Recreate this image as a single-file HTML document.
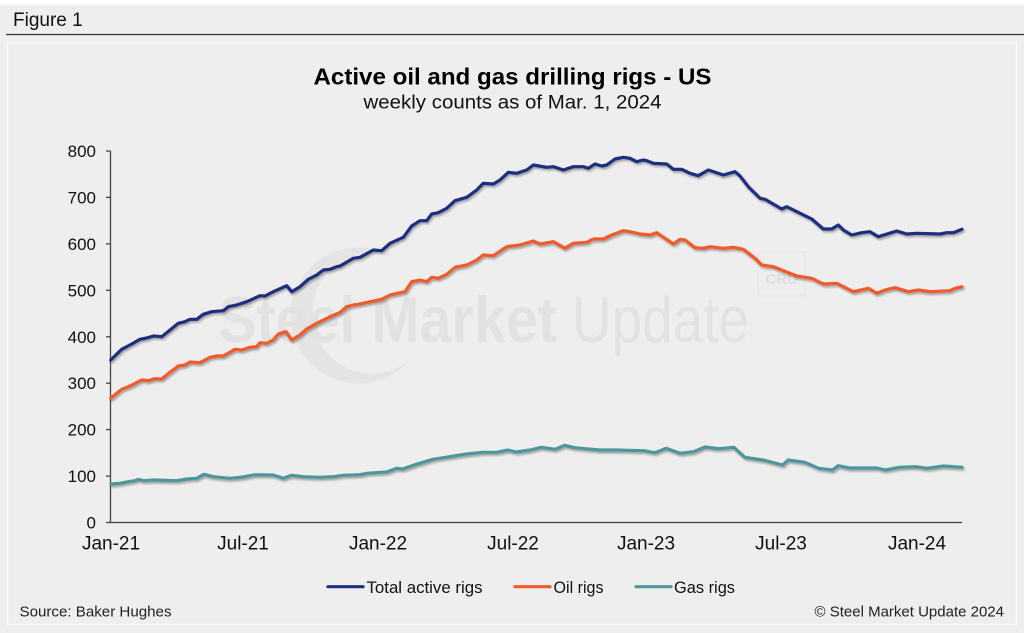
<!DOCTYPE html>
<html><head><meta charset="utf-8"><style>
html,body{margin:0;padding:0;background:#fff;}
svg{display:block;}
text{font-family:"Liberation Sans",Arial,sans-serif;}
</style></head><body>
<svg width="1024" height="633" viewBox="0 0 1024 633" xmlns="http://www.w3.org/2000/svg">
<defs>
<filter id="sh" x="-5%" y="-5%" width="110%" height="120%">
<feDropShadow dx="1.2" dy="1.8" stdDeviation="1" flood-color="#000" flood-opacity="0.35"/>
</filter>
</defs>
<rect x="0" y="5" width="1024" height="628" fill="#eeeeee"/>
<text x="13" y="26" font-size="19" fill="#111">Figure 1</text>
<line x1="6" y1="34.5" x2="1024" y2="34.5" stroke="#333" stroke-width="1.2"/>
<rect x="7.5" y="42.5" width="1009" height="582" fill="#eeeeee" stroke="#fafafa" stroke-width="1.5"/>

<!-- watermark -->
<path d="M395,258 A68,68 0 1 0 410,360 A60,60 0 1 1 395,258 Z" fill="#e4e4e4"/>
<text x="218" y="342" font-size="65" font-weight="bold" fill="#e2e2e2" textLength="339" lengthAdjust="spacingAndGlyphs">Steel Market</text>
<text x="572" y="342" font-size="65" fill="#e2e2e2" textLength="177" lengthAdjust="spacingAndGlyphs">Update</text>
<rect x="758" y="252" width="47" height="44" rx="3" fill="none" stroke="#e3e3e3" stroke-width="1"/>
<text x="781.5" y="284" font-size="15" font-weight="bold" fill="#dedede" text-anchor="middle">CRU</text>

<!-- titles -->
<text x="512.5" y="84.5" font-size="23" font-weight="bold" fill="#000" text-anchor="middle" textLength="398" lengthAdjust="spacingAndGlyphs">Active oil and gas drilling rigs - US</text>
<text x="512.5" y="108.5" font-size="19" fill="#111" text-anchor="middle" textLength="298" lengthAdjust="spacingAndGlyphs">weekly counts as of Mar. 1, 2024</text>

<!-- axes -->
<g stroke="#444" stroke-width="1.3">
<line x1="110.5" y1="151" x2="110.5" y2="523"/>
<line x1="110" y1="522.5" x2="962" y2="522.5"/>
<line x1="106" y1="151" x2="110.5" y2="151"/>
<line x1="106" y1="197.4" x2="110.5" y2="197.4"/>
<line x1="106" y1="243.9" x2="110.5" y2="243.9"/>
<line x1="106" y1="290.3" x2="110.5" y2="290.3"/>
<line x1="106" y1="336.8" x2="110.5" y2="336.8"/>
<line x1="106" y1="383.2" x2="110.5" y2="383.2"/>
<line x1="106" y1="429.6" x2="110.5" y2="429.6"/>
<line x1="106" y1="476.1" x2="110.5" y2="476.1"/>
<line x1="106" y1="522.5" x2="110.5" y2="522.5"/>
</g>
<g font-size="17" fill="#111" text-anchor="end">
<text x="96" y="157">800</text>
<text x="96" y="203.4">700</text>
<text x="96" y="249.9">600</text>
<text x="96" y="296.3">500</text>
<text x="96" y="342.8">400</text>
<text x="96" y="389.2">300</text>
<text x="96" y="435.6">200</text>
<text x="96" y="482.1">100</text>
<text x="96" y="528.5">0</text>
</g>
<g font-size="19" fill="#111" text-anchor="middle">
<text x="111" y="549.5">Jan-21</text>
<text x="243" y="549.5">Jul-21</text>
<text x="378" y="549.5">Jan-22</text>
<text x="513" y="549.5">Jul-22</text>
<text x="646" y="549.5">Jan-23</text>
<text x="781" y="549.5">Jul-23</text>
<text x="917" y="549.5">Jan-24</text>
</g>

<!-- series -->
<g fill="none" stroke-width="3.2" stroke-linejoin="round" stroke-linecap="round" filter="url(#sh)">
<polyline stroke="#4e979c" points="111,484 120,483.3 126.7,482 135,480.7 138.3,479.3 143.3,480.7 153.3,480 176.7,480.7 186.7,479 196.7,478.3 204,474.3 213.3,476.7 230,478.3 243.3,477 255,474.7 273.3,475 283.3,478.3 291.7,475.3 303.3,476.7 320,477.3 333.3,476.7 343.3,475.3 360,474.7 366.7,473.3 386.7,472 396.7,468.3 402.4,469 416.3,464.3 433,459.3 449.6,456.7 466.3,454 482.9,452.3 496.8,452.3 507.9,450 516.2,452 530.1,450 541.2,447.3 555,449.3 564.5,445.3 574.5,447.7 599.4,450 616.1,450 643.8,450.7 654.9,452.7 666,448.3 679.9,453.3 693.8,451.7 704.9,447 718.7,448.7 733.7,447.3 744.8,457.3 763.1,460 782.6,465 788.1,460 804.8,462.3 818.7,468.3 832.5,470 838.1,465.7 849.2,468 876.9,468 885.2,470 899.1,467.3 915.7,466.7 926.8,468.3 943.5,466 962,467.3"/>
<polyline stroke="#f15a29" points="110.7,398.3 121.7,389.3 130,386 141.7,380 148.3,380.7 155,378.7 161.7,379 170,372.3 178.3,366 185,365 190,362 200,362.7 210,357.3 216.7,356 223.3,356 235,349.3 241.7,350 250,347.3 256.7,346.7 260,342.7 266.7,343.3 273.3,340 278.3,334 286,331.7 291.7,340 300,335 306.7,329 316.7,323.3 323.3,320 331.7,316 340,312.5 346.7,306.7 353.3,305 360,304 381.7,299.3 390,295 405,291.7 411.7,281.7 420,280 426.7,281.7 431.7,277.3 438.3,278.3 446.7,274.3 455,267.3 466.7,265 476.7,260 483.3,255 493.3,255.7 506.7,246.7 520,245 533.3,241 540,244 553.3,241.7 565,248.3 573.3,243.3 586.7,242.3 593.3,239 603.3,239 611.7,235 623.3,230.7 630,231.7 640,234 650,235 656.7,232.7 665,238.3 673.3,244 680,239.3 685,240 695,247.7 703.3,248.3 710,246.7 723.3,248.3 733.3,247.3 743.3,249.3 755,258.3 761.7,265 773.3,266.7 796.7,276 811.7,278.3 823.3,284 836.7,283.3 853.3,291.7 868.3,288.3 876.7,293.3 885,290 895,287.7 908.3,291.7 918.3,290 930,291.7 950,290.7 955,288.3 962,286.7"/>
<polyline stroke="#1e2f7d" points="110.7,360 121.7,349.3 131.7,344 140,339.3 146.7,338 153.3,336 161.7,336.7 170,330 178.3,323.3 185,321.7 190,319.3 196.7,319.3 203.3,314.3 211.7,311.7 223.3,310.7 228.3,306.7 236.7,305 246.7,301.7 260,295.7 265,296 273.3,291.7 286.7,285.7 291.7,291.7 300,286.7 308.3,279.3 316.7,275 323.3,270 330,269.3 336.7,266.7 340,266 353.3,258.3 360,257.3 373.3,250 381.7,250.7 390,243.3 403.3,237.3 411.7,226 420,220.7 426.7,220.7 431.7,214 438.3,212.7 446.7,208.3 455,200.7 466.7,197.3 476.7,190 483.3,183.3 493.3,184 500,180 508.3,172.3 516.7,173.3 526.7,170 533.3,165 546.7,167.3 553.3,166.7 563.3,170 573.3,166.7 583.3,166.7 588.3,168.3 595,164 601.7,166 606.7,165 615,159 623.3,157.3 630,158.3 636.7,161.7 643.3,160 646.7,160.7 653.3,163.3 666.7,164 673.3,169.3 681.7,169.3 690,173.3 698.3,175.7 708.3,170 723.3,175 735,171.7 740,176 748.3,186.7 760,198.3 765,199.3 781.7,209 786.7,206.7 811.7,219 823.3,229 831.7,229 838.3,225 843.3,230 851.7,235 861.7,232.7 870,231.7 878.3,236.7 896.7,231 906.7,234 916.7,233.3 940,234 946.7,232.7 953.3,232.7 962,229.3"/>
</g>

<!-- legend -->
<g stroke-width="3.2" stroke-linecap="round">
<line x1="328" y1="586.7" x2="363" y2="586.7" stroke="#1e2f7d"/>
<line x1="515" y1="586.7" x2="550" y2="586.7" stroke="#f15a29"/>
<line x1="636" y1="586.7" x2="671" y2="586.7" stroke="#4e979c"/>
</g>
<g font-size="17" fill="#111">
<text x="366.5" y="593" textLength="116" lengthAdjust="spacingAndGlyphs">Total active rigs</text>
<text x="553.5" y="593" textLength="50" lengthAdjust="spacingAndGlyphs">Oil rigs</text>
<text x="674" y="593" textLength="61" lengthAdjust="spacingAndGlyphs">Gas rigs</text>
</g>

<text x="19.5" y="616.5" font-size="15" fill="#222" textLength="152" lengthAdjust="spacingAndGlyphs">Source: Baker Hughes</text>
<text x="1004" y="616.5" font-size="15" fill="#222" text-anchor="end">© Steel Market Update 2024</text>
</svg>
</body></html>
